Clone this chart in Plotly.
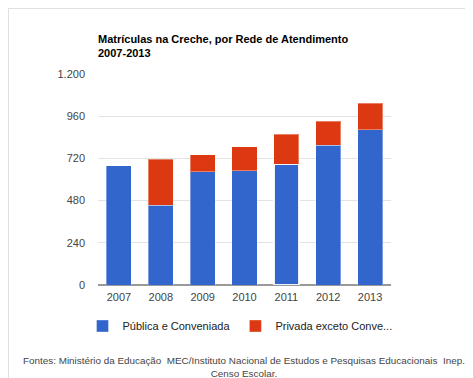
import plotly.graph_objects as go

years = ["2007", "2008", "2009", "2010", "2011", "2012", "2013"]
publica = [677, 455, 645, 650, 688, 796, 883]
privada = [None, 260, 96, 135, 169, 135, 150]
y_ticks = [0, 240, 480, 720, 960, 1200]
y_tick_labels = ["0", "240", "480", "720", "960", "1.200"]
series_names = ["Pública e Conveniada", "Privada exceto Conve..."]
title_text = "Matrículas na Creche, por Rede de Atendimento<br>2007-2013"
source_text = ("Fontes: Ministério da Educação &nbsp;MEC/Instituto Nacional de Estudos e Pesquisas "
               "Educacionais &nbsp;Inep.<br>Censo Escolar.")

BLUE = "#3366CC"
RED = "#DC3912"

# page has an 8px body margin; work in figure coordinates
W, H = 465, 370
L, R, T, B = 90, 82, 66, 93
pw, ph = W - L - R, H - T - B

def px_x(p):
    return (p - L) / pw

def px_y(p):
    return (H - B - p) / ph

blue_line_col = ["rgba(255,255,255,0.35)"] * len(years)
blue_line_col[4] = "rgba(255,255,255,0.9)"
blue_line_w = [1] * len(years)
blue_line_w[4] = 1.5

fig = go.Figure()
fig.add_trace(go.Bar(
    x=years, y=publica, name=series_names[0],
    marker=dict(color=BLUE, line=dict(color=blue_line_col, width=blue_line_w)),
))
fig.add_trace(go.Bar(
    x=years, y=privada, name=series_names[1],
    marker=dict(color=RED, line=dict(color="rgba(255,255,255,0.35)", width=1)),
))

fig.update_layout(
    width=W, height=H,
    margin=dict(l=L, r=R, t=T, b=B, pad=0),
    barmode="stack", bargap=0.4,
    plot_bgcolor="white", paper_bgcolor="white",
    font=dict(family="Liberation Sans, Arial", size=11, color="#444444"),
    title=dict(text="<b>" + title_text + "</b>", x=px_x(90), xref="paper",
               y=1 - 35 / H, yref="container", yanchor="top", xanchor="left",
               font=dict(family="Liberation Sans, Arial", size=11, color="#000000")),
    showlegend=True,
    legend=dict(orientation="h", x=px_x(74.5), xanchor="left", y=px_y(318), yanchor="middle",
                yref="paper", font=dict(size=11, color="#222222"),
                traceorder="normal", bgcolor="rgba(0,0,0,0)"),
    xaxis=dict(showgrid=False, showline=False, ticks="", ticklabelstandoff=4,
               tickfont=dict(size=11, color="#444444"), fixedrange=True),
    yaxis=dict(range=[0, 1200], tickvals=y_ticks, ticktext=y_tick_labels,
               showgrid=True, gridcolor="#e3e3e3", gridwidth=1,
               zeroline=True, zerolinecolor="#999999", zerolinewidth=1.5,
               ticks="", ticklabelstandoff=12, tickfont=dict(size=11, color="#444444")),
    annotations=[dict(text=source_text, xref="paper", yref="paper",
                      x=px_x(236), y=px_y(345), xanchor="center", yanchor="top",
                      showarrow=False, align="center",
                      font=dict(size=9.9, color="#444444"))],
    shapes=[
        dict(type="line", xref="paper", yref="paper", x0=px_x(0), x1=px_x(W),
             y0=px_y(0.5), y1=px_y(0.5), line=dict(color="#e0e0e0", width=1), layer="below"),
        dict(type="line", xref="paper", yref="paper", x0=px_x(0.5), x1=px_x(0.5),
             y0=px_y(0), y1=px_y(H), line=dict(color="#e0e0e0", width=1), layer="below"),
    ],
)

fig.write_html("out.html")
